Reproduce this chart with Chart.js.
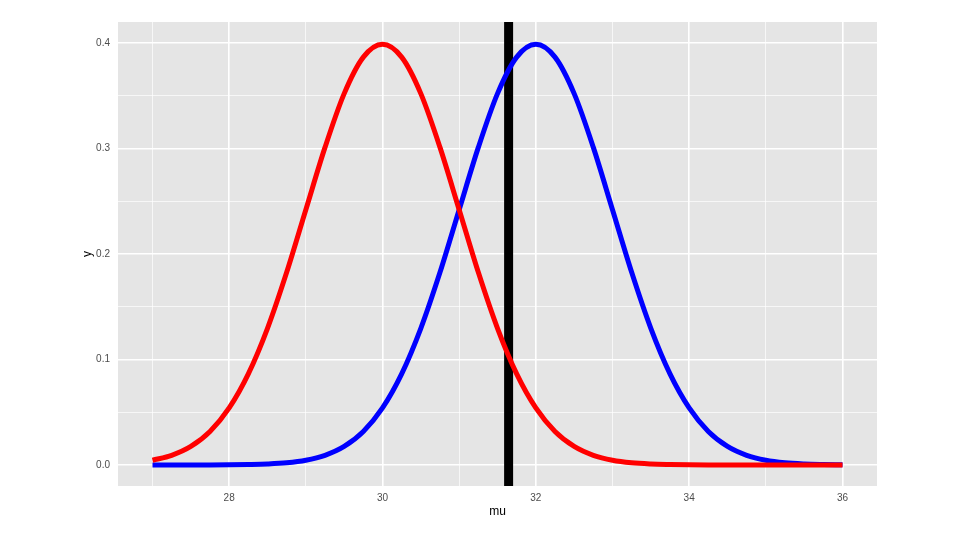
<!DOCTYPE html><html><head><script src="https://cdn.jsdelivr.net/npm/chart.js@4"></script>
<style>body{margin:0;background:#fff}#w{width:960px;height:540px}</style></head><body><div id="w"><canvas id="c"></canvas></div>
<script>
const xs=[27,27.25,27.5,27.75,28,28.25,28.5,28.75,29,29.25,29.5,29.75,30,30.25,30.5,30.75,31,31.25,31.5,31.75,32,32.25,32.5,32.75,33,33.25,33.5,33.75,34,34.25,34.5,34.75,35,35.25,35.5,35.75,36];
const red=[0.0044,0.0091,0.0175,0.0317,0.0540,0.0863,0.1295,0.1826,0.2420,0.3011,0.3521,0.3867,0.3989,0.3867,0.3521,0.3011,0.2420,0.1826,0.1295,0.0863,0.0540,0.0317,0.0175,0.0091,0.0044,0.0020,0.0009,0.0004,0.0001,0,0,0,0,0,0,0,0];
const blue=[0,0,0,0,0.0001,0.0004,0.0009,0.0020,0.0044,0.0091,0.0175,0.0317,0.0540,0.0863,0.1295,0.1826,0.2420,0.3011,0.3521,0.3867,0.3989,0.3867,0.3521,0.3011,0.2420,0.1826,0.1295,0.0863,0.0540,0.0317,0.0175,0.0091,0.0044,0.0020,0.0009,0.0004,0.0001];
const vline=31.645;
const pts=a=>xs.map((x,i)=>({x,y:a[i]}));
const bg={id:'bg',beforeDraw(c){const a=c.chartArea,g=c.ctx;g.save();g.fillStyle='#e5e5e5';g.fillRect(a.left,a.top,a.right-a.left,a.bottom-a.top);g.restore();},
afterDraw(c){const a=c.chartArea,g=c.ctx;g.save();g.fillStyle='#000';g.font='12px "Liberation Sans"';g.textAlign='center';g.textBaseline='middle';
g.fillText('mu',(a.left+a.right)/2,a.bottom+26);g.translate(a.left-30,(a.top+a.bottom)/2);g.rotate(-Math.PI/2);g.fillText('y',0,0);g.restore();}};
new Chart(document.getElementById('c'),{type:'line',plugins:[bg],
data:{datasets:[
{data:pts(red),borderColor:'#ff0000',borderWidth:5,pointRadius:0,tension:0.4,cubicInterpolationMode:'monotone'},
{data:pts(blue),borderColor:'#0000ff',borderWidth:5,pointRadius:0,tension:0.4,cubicInterpolationMode:'monotone'},
{data:[{x:vline,y:-0.02},{x:vline,y:0.42}],borderColor:'#000',borderWidth:9,pointRadius:0}]},
options:{responsive:true,maintainAspectRatio:false,animation:false,
layout:{padding:{left:0,top:22,right:83,bottom:0}},
plugins:{legend:{display:false},tooltip:{enabled:false}},
scales:{
x:{type:'linear',min:26.55,max:36.45,afterFit:s=>{s.height=54},
 afterBuildTicks:s=>{s.ticks=[27,28,29,30,31,32,33,34,35,36].map(v=>({value:v}))},
 border:{display:false},
 grid:{color:'#fff',lineWidth:c=>c.tick&&c.tick.value%2===0?1.6:0.7,drawTicks:false},
 ticks:{color:'#4d4d4d',font:{size:10,family:'Liberation Sans'},padding:6,callback:v=>v%2===0?v:''}},
y:{min:-0.02,max:0.42,afterFit:s=>{s.width=118},
 afterBuildTicks:s=>{s.ticks=[0,0.05,0.1,0.15,0.2,0.25,0.3,0.35,0.4].map(v=>({value:v}))},
 border:{display:false},
 grid:{color:'#fff',lineWidth:c=>c.tick&&Math.round(c.tick.value*100)%10===0?1.6:0.7,drawTicks:false},
 ticks:{color:'#4d4d4d',font:{size:10,family:'Liberation Sans'},padding:8,callback:v=>Math.round(v*100)%10===0?v.toFixed(1):''}}}}});
</script></body></html>
